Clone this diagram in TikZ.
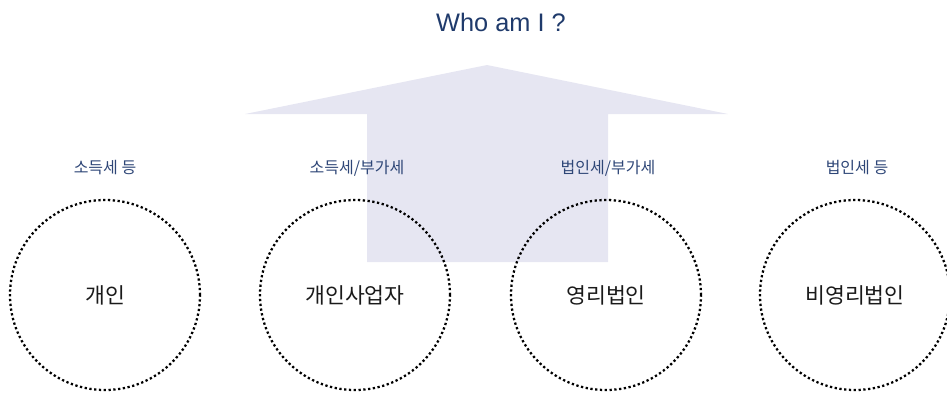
\documentclass[tikz,border=0pt]{standalone}
\usepackage{fontspec}
\setmainfont{Liberation Sans}
\newfontfamily\kr{Noto Sans CJK KR}
\definecolor{arrowfill}{HTML}{E6E6F2}
\definecolor{titleblue}{HTML}{1F3A6B}
\definecolor{labelblue}{HTML}{2E4677}
\definecolor{innertext}{HTML}{1A1A1A}
\begin{document}
\begin{tikzpicture}[x=0.75pt,y=-0.75pt,
  entity/.style={circle,draw=black,line width=1.7pt,dash pattern=on 1.7pt off 1.9pt,
    minimum size=142.5pt,inner sep=0pt,font=\kr\fontsize{16.2pt}{18pt}\selectfont,text=innertext},
  taxlabel/.style={font=\kr\fontsize{12pt}{14pt}\selectfont,text=labelblue,inner sep=0pt},
  titlelabel/.style={font=\fontsize{19pt}{21pt}\selectfont,text=titleblue,inner sep=0pt}]
\useasboundingbox (0,0) rectangle (947,394);
\clip (0,0) rectangle (947,394);
% big arrow
\fill[arrowfill] (487,65) -- (728,114) -- (608,114) -- (608,262) -- (367,262) -- (367,114) -- (245,114) -- cycle;
% title
\node[titlelabel] (title) at (501,22) {Who am I ?};
% labels
\node[taxlabel] (l1) at (105,168) {소득세 등};
\node[taxlabel] (l2) at (357,168) {소득세/부가세};
\node[taxlabel] (l3) at (608,168) {법인세/부가세};
\node[taxlabel] (l4) at (857,168) {법인세 등};
% circles
\node[entity] (c1) at (105,295) {개인};
\node[entity] (c2) at (355,295) {개인사업자};
\node[entity] (c3) at (606,295) {영리법인};
\node[entity] (c4) at (855,295) {비영리법인};
\end{tikzpicture}
\end{document}
